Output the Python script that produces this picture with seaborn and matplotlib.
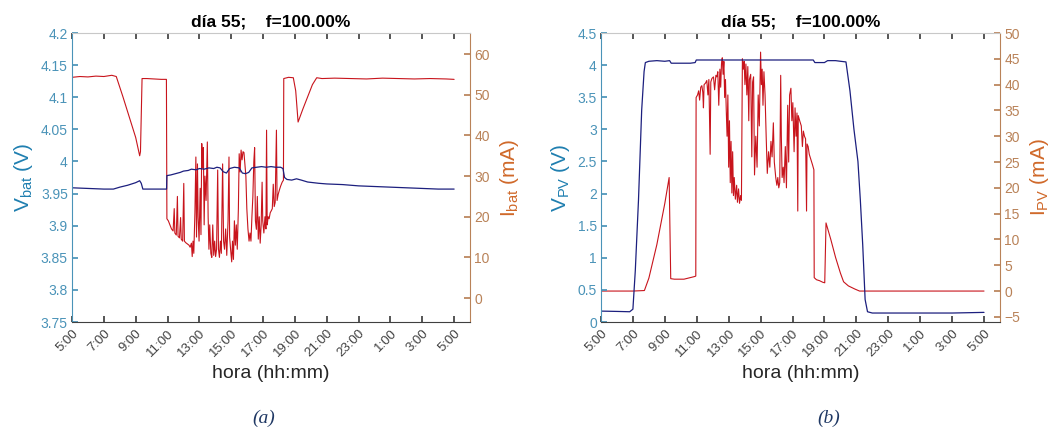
import matplotlib
matplotlib.use("Agg")
import matplotlib.pyplot as plt
import numpy as np
import pandas as pd
import seaborn as sns

sns.set_theme(style="white")
plt.rcParams["font.family"] = ["Liberation Sans", "DejaVu Sans"]
plt.rcParams["mathtext.default"] = "regular"

# ---------------- data (time in hours since 0:00 of day 55; >24 means next day) -------------
# battery voltage (V)
vbat_t = [5.0, 6.0, 7.0, 7.6, 8.0, 8.5, 9.0, 9.25, 9.35, 9.45, 10.0, 10.5, 10.94, 10.96,
          11.2, 11.5, 11.8, 12.0, 12.3, 12.5, 12.8, 13.0, 13.3, 13.6, 13.9, 14.1, 14.3,
          14.5, 14.7, 14.9, 15.2, 15.5, 15.7, 15.9, 16.1, 16.3, 16.6, 16.9, 17.2, 17.5,
          17.8, 18.1, 18.25, 18.35, 18.5, 18.8, 19.1, 19.4, 19.8, 20.5, 21.0, 22.0, 23.0,
          24.0, 25.0, 26.0, 27.0, 28.0, 29.0]
vbat_v = [3.959, 3.958, 3.957, 3.957, 3.960, 3.963, 3.967, 3.970, 3.966, 3.957, 3.957,
          3.957, 3.957, 3.978, 3.979, 3.981, 3.983, 3.985, 3.986, 3.988, 3.987, 3.989,
          3.988, 3.990, 3.989, 3.991, 3.990, 3.984, 3.982, 3.989, 3.991, 3.990, 3.982,
          3.981, 3.983, 3.990, 3.991, 3.992, 3.991, 3.992, 3.991, 3.991, 3.989, 3.975,
          3.972, 3.971, 3.973, 3.971, 3.968, 3.966, 3.965, 3.964, 3.962, 3.961, 3.960,
          3.959, 3.958, 3.957, 3.957]

# battery current (mA)
ibat_t = [5.0, 5.5, 6.0, 6.5, 7.0, 7.5, 7.78, 8.2, 8.6, 9.0, 9.25, 9.3, 9.4, 9.7, 10.2,
          10.6, 10.93, 10.96, 11.05, 11.15, 11.25, 11.35, 11.42, 11.46, 11.55, 11.62,
          11.66, 11.75, 11.82, 11.86, 11.95, 12.02, 12.06, 12.15, 12.25, 12.35, 12.42,
          12.5, 12.55, 12.6, 12.65, 12.72, 12.78, 12.82, 12.88, 12.92, 12.98, 13.05, 13.1,
          13.15, 13.2, 13.25, 13.3, 13.35, 13.42, 13.5, 13.55, 13.6, 13.65, 13.72, 13.78,
          13.84, 13.9, 13.96, 14.02, 14.08, 14.15, 14.2, 14.26, 14.32, 14.38, 14.46,
          14.52, 14.58, 14.65, 14.72, 14.8, 14.86, 14.9, 14.96, 15.03, 15.08, 15.14,
          15.2, 15.26, 15.32, 15.38, 15.45, 15.5, 15.56, 15.62, 15.68, 15.74, 15.8,
          15.86, 15.92, 15.98, 16.05, 16.12, 16.18, 16.24, 16.3, 16.36, 16.42, 16.47,
          16.52, 16.58, 16.64, 16.7, 16.76, 16.82, 16.88, 16.94, 16.98, 17.05, 17.12,
          17.18, 17.22, 17.26, 17.32, 17.38, 17.45, 17.52, 17.58, 17.64, 17.7, 17.76,
          17.84, 17.88, 17.95, 18.02, 18.1, 18.2, 18.28, 18.3, 18.6, 18.9, 19.05, 19.2,
          19.5, 19.8, 20.1, 20.37, 20.7, 21.5, 22.5, 23.5, 24.5, 25.5, 26.5, 27.5, 28.5,
          29.0]
ibat_i = [54.3, 54.5, 54.4, 54.6, 54.5, 54.8, 54.5, 49.5, 44.5, 39.5, 35.0, 36.0, 54.0,
          54.0, 53.9, 53.8, 53.8, 19.5, 19.0, 18.0, 17.0, 16.5, 22.0, 16.0, 15.5, 25.0,
          15.2, 14.8, 19.8, 14.5, 14.0, 28.2, 14.0, 13.6, 13.3, 13.0, 12.5, 13.5, 10.2,
          14.0, 11.0, 21.0, 34.7, 15.0, 33.0, 20.0, 14.0, 27.0, 15.6, 38.0, 32.0, 37.0,
          18.0, 30.0, 24.0, 38.4, 20.0, 12.0, 18.0, 11.0, 10.0, 18.0, 10.5, 14.0, 10.2,
          12.0, 31.5, 12.0, 10.0, 14.0, 11.0, 33.0, 14.0, 12.0, 17.0, 10.5, 19.0, 34.7,
          15.0, 12.0, 8.9, 14.0, 9.5, 19.0, 13.0, 18.0, 12.0, 22.0, 35.5, 31.0, 36.4,
          34.0, 36.0, 35.8, 33.0, 30.0, 22.0, 17.0, 14.0, 16.0, 14.0, 20.0, 25.0, 33.6,
          37.0, 19.0, 16.9, 25.0, 14.5, 20.0, 13.5, 18.0, 28.5, 19.0, 16.0, 20.0, 17.0,
          41.3, 18.0, 20.0, 19.5, 21.0, 21.5, 22.0, 28.0, 22.5, 23.5, 41.3, 24.0, 25.5,
          26.5, 27.5, 28.5, 29.0, 54.0, 54.3, 54.2, 51.0, 43.3, 46.5, 49.5, 52.5, 54.2,
          54.0, 54.1, 54.0, 53.9, 54.1, 54.0, 53.9, 54.0, 53.9, 53.8]

# PV voltage (V)
vpv_t = [5.0, 6.0, 6.8, 7.0, 7.15, 7.35, 7.55, 7.7, 7.78, 8.0, 8.5, 9.0, 9.3, 9.4, 10.0,
         10.6, 10.9, 10.97, 12.0, 13.0, 14.0, 15.0, 16.0, 17.0, 18.0, 18.3, 18.4, 19.0,
         19.2, 19.7, 20.0, 20.35, 20.6, 20.85, 21.1, 21.25, 21.4, 21.55, 21.7, 22.0, 23.0,
         25.0, 27.0, 29.0]
vpv_v = [0.17, 0.165, 0.16, 0.2, 0.8, 1.9, 3.3, 3.9, 4.04, 4.06, 4.07, 4.06, 4.07, 4.03,
         4.03, 4.03, 4.04, 4.08, 4.08, 4.08, 4.08, 4.08, 4.08, 4.08, 4.08, 4.08, 4.04, 4.04,
         4.07, 4.07, 4.06, 4.05, 3.6, 3.0, 2.5, 1.9, 1.2, 0.35, 0.16, 0.14, 0.14, 0.14,
         0.14, 0.15]

# PV current (mA)
ipv_t = [5.0, 6.0, 7.0, 7.72, 8.0, 8.5, 9.0, 9.27, 9.37, 9.6, 10.2, 10.85, 10.94, 10.96,
         11.05, 11.12, 11.18, 11.25, 11.32, 11.38, 11.42, 11.46, 11.55, 11.63, 11.7,
         11.76, 11.84, 11.88, 11.95, 12.05, 12.12, 12.2, 12.26, 12.32, 12.38, 12.45,
         12.5, 12.55, 12.6, 12.65, 12.7, 12.75, 12.8, 12.85, 12.9, 12.95, 13.0, 13.05,
         13.1, 13.15, 13.2, 13.25, 13.3, 13.35, 13.42, 13.5, 13.55, 13.62, 13.68, 13.75,
         13.8, 13.86, 13.92, 13.97, 14.02, 14.08, 14.14, 14.2, 14.26, 14.3, 14.38, 14.45,
         14.5, 14.56, 14.62, 14.7, 14.78, 14.85, 14.92, 15.0, 15.05, 15.1, 15.15, 15.21,
         15.28, 15.35, 15.42, 15.5, 15.58, 15.65, 15.72, 15.8, 15.86, 15.95, 16.02, 16.08,
         16.14, 16.2, 16.26, 16.3, 16.35, 16.42, 16.47, 16.55, 16.62, 16.7, 16.76, 16.82,
         16.9, 16.96, 17.02, 17.1, 17.16, 17.22, 17.28, 17.33, 17.36, 17.45, 17.55,
         17.62, 17.68, 17.75, 17.82, 17.88, 17.91, 17.98, 18.05, 18.15, 18.25, 18.34,
         18.36, 18.5, 18.7, 18.9, 19.02, 19.1, 19.4, 19.7, 20.0, 20.2, 20.5, 20.9, 21.2,
         22.5, 24.0, 26.0, 28.0, 29.0]
ipv_i = [0.0, 0.0, 0.0, 0.1, 2.5, 9.0, 17.0, 22.0, 2.4, 2.3, 2.3, 2.8, 2.9, 37.5, 38.0,
         38.8, 37.0, 39.5, 39.8, 38.5, 35.5, 40.0, 40.3, 40.8, 38.0, 41.0, 26.5, 40.5,
         41.2, 41.5, 39.0, 41.8, 41.5, 42.5, 36.0, 43.0, 39.5, 44.0, 45.2, 42.0, 44.5,
         37.5, 41.0, 35.0, 30.0, 38.0, 24.0, 33.0, 21.0, 29.0, 19.0, 27.0, 18.5, 22.0,
         17.8, 20.5, 17.2, 19.8, 17.0, 18.5, 17.6, 45.0, 43.0, 44.5, 40.0, 44.0, 38.0,
         43.5, 33.0, 41.0, 42.0, 26.0, 40.5, 41.5, 22.5, 30.0, 24.0, 38.0, 32.0, 46.3,
         40.0, 43.0, 36.0, 42.5, 38.0, 30.0, 22.8, 27.0, 24.0, 29.0, 26.0, 32.6, 25.0,
         22.0, 20.5, 22.0, 20.0, 21.0, 41.8, 30.0, 22.0, 24.0, 21.0, 28.0, 20.0, 36.0,
         25.0, 38.0, 39.3, 33.0, 36.5, 27.0, 35.5, 30.0, 34.5, 15.5, 34.0, 33.0, 32.0,
         28.0, 31.0, 30.0, 29.5, 15.5, 28.5, 28.0, 26.5, 25.5, 24.5, 23.5, 2.6, 2.2, 2.0,
         1.7, 1.6, 13.2, 10.0, 6.5, 3.5, 1.8, 1.0, 0.4, 0.0, 0.0, 0.0, 0.0, 0.0, 0.0]

hour_ticks = [5, 7, 9, 11, 13, 15, 17, 19, 21, 23, 25, 27, 29]
hour_labels = ["5:00", "7:00", "9:00", "11:00", "13:00", "15:00", "17:00", "19:00",
               "21:00", "23:00", "1:00", "3:00", "5:00"]
title_text = "día 55;    f=100.00%"

# ---------------- styling ----------------
C_VOLT_LBL = "#1f7fb0"
C_VOLT_TCK = "#4a93b8"
C_CURR_LBL = "#d0692a"
C_CURR_TCK = "#b98258"
C_BLUE = "#1c1f7e"
C_RED = "#c8141c"

fig = plt.figure(figsize=(10.62, 4.38), dpi=100)
fig.patch.set_facecolor("white")


def draw_panel(rect, t_v, v, t_i, i, vlim, vticks, ilim, iticks, vlabel, ilabel, caption, cap_x):
    ax = fig.add_axes(rect)
    ax2 = ax.twinx()
    ax.set_zorder(2)
    ax.patch.set_visible(False)
    ax2.set_zorder(1)

    sns.lineplot(x=t_i, y=i, ax=ax2, color=C_RED, linewidth=0.8,
                 estimator=None, sort=False)
    sns.lineplot(x=t_v, y=v, ax=ax, color=C_BLUE, linewidth=0.9,
                 estimator=None, sort=False)

    ax.set_xlim(5, 30)
    ax.set_ylim(*vlim)
    ax.set_yticks(vticks)
    ax.set_yticklabels([("%g" % tv) for tv in vticks])
    ax2.set_ylim(*ilim)
    ax2.set_yticks(iticks)

    ax.set_xticks(hour_ticks)
    ax.set_xticklabels(hour_labels, rotation=45, ha="right", rotation_mode="anchor",
                       fontsize=9.5, color="#404040")

    ax.tick_params(axis="x", direction="in", length=4, top=True, bottom=True,
                   color="#404040", pad=4)
    ax.tick_params(axis="y", direction="in", length=4, left=True, color=C_VOLT_TCK,
                   labelcolor=C_VOLT_TCK, labelsize=10, pad=3)
    ax2.tick_params(axis="y", direction="in", length=4, right=True, color=C_CURR_TCK,
                    labelcolor=C_CURR_TCK, labelsize=10, pad=3)

    for sp in ax.spines.values():
        sp.set_linewidth(0.8)
    for sp in ax2.spines.values():
        sp.set_linewidth(0.8)
    ax.spines["left"].set_color(C_VOLT_TCK)
    ax.spines["bottom"].set_color("#404040")
    ax.spines["top"].set_color("#c8c8c8")
    ax.spines["right"].set_visible(False)
    ax2.spines["right"].set_color(C_CURR_TCK)
    ax2.spines["left"].set_visible(False)
    ax2.spines["top"].set_visible(False)
    ax2.spines["bottom"].set_visible(False)

    ax.set_ylabel(vlabel, fontsize=15, color=C_VOLT_LBL, labelpad=4)
    ax2.set_ylabel(ilabel, fontsize=15, color=C_CURR_LBL, labelpad=6)
    ax.set_xlabel("hora (hh:mm)", fontsize=14, color="#262626", labelpad=4)
    ax.set_title(title_text, fontsize=12.5, fontweight="bold", color="black", pad=5)
    ax.grid(False)
    ax2.grid(False)

    fig.text(cap_x, 0.045, caption, ha="center", va="center", fontsize=14,
             fontstyle="italic", family=["Liberation Serif", "DejaVu Serif"],
             color="#1f3864")
    return ax, ax2


draw_panel([0.0678, 0.2648, 0.3748, 0.6598], vbat_t, vbat_v, ibat_t, ibat_i,
           (3.75, 4.2), [3.75, 3.8, 3.85, 3.9, 3.95, 4.0, 4.05, 4.1, 4.15, 4.2],
           (-5.9, 65.2), [0, 10, 20, 30, 40, 50, 60],
           r"V$_{bat}$ (V)", r"I$_{bat}$ (mA)", "(a)", 0.248)

draw_panel([0.5659, 0.2648, 0.3757, 0.6598], vpv_t, vpv_v, ipv_t, ipv_i,
           (0, 4.5), [0, 0.5, 1, 1.5, 2, 2.5, 3, 3.5, 4, 4.5],
           (-6, 50), [-5, 0, 5, 10, 15, 20, 25, 30, 35, 40, 45, 50],
           r"V$_{PV}$ (V)", r"I$_{PV}$ (mA)", "(b)", 0.78)

fig.savefig("out.png", dpi=100, facecolor="white")
